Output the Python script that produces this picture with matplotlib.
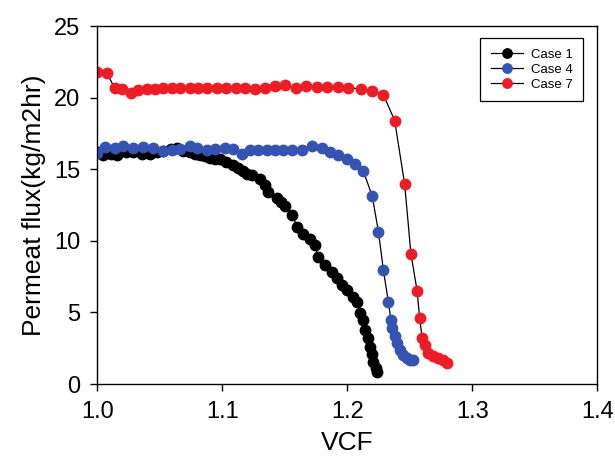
import numpy as np
from matplotlib import pyplot as plt

plt.rcParams['font.family'] = ['Liberation Sans', 'DejaVu Sans']

# Case 1 (black)
vcf_1 = [1.000, 1.005, 1.011, 1.016, 1.023, 1.029, 1.036, 1.042, 1.048, 1.053, 1.059,
         1.064, 1.069, 1.074, 1.078, 1.082, 1.086, 1.090, 1.094, 1.098,
         1.103, 1.109, 1.113, 1.117, 1.120, 1.124, 1.130, 1.134, 1.137,
         1.144, 1.147, 1.150, 1.156, 1.160, 1.165,
         1.170, 1.174, 1.177, 1.182, 1.188, 1.192,
         1.196, 1.200, 1.205, 1.208, 1.210,
         1.213, 1.214, 1.217, 1.218, 1.220, 1.221, 1.223, 1.224]
flux_1 = [16.2, 16.0, 16.1, 16.0, 16.2, 16.2, 16.1, 16.1, 16.2, 16.3, 16.4,
          16.5, 16.3, 16.2, 16.1, 16.0, 15.9, 15.8, 15.75, 15.7,
          15.5, 15.3, 15.1, 14.9, 14.7, 14.6, 14.3, 13.9, 13.4,
          13.0, 12.7, 12.4, 11.8, 11.0, 10.5,
          10.1, 9.7, 8.9, 8.3, 7.8, 7.4,
          6.9, 6.6, 6.1, 5.75, 4.95,
          4.5, 3.8, 3.2, 2.6, 2.1, 1.55, 1.1, 0.85]

# Case 4 (blue)
vcf_4 = [1.000, 1.006, 1.014, 1.021, 1.029, 1.037, 1.045, 1.053, 1.060, 1.066, 1.074,
         1.080, 1.088, 1.094, 1.102, 1.109, 1.116, 1.122, 1.129, 1.136, 1.142, 1.149,
         1.156, 1.164, 1.172, 1.180, 1.186, 1.193, 1.200, 1.206, 1.213, 1.220, 1.225,
         1.229, 1.233, 1.235, 1.236, 1.238, 1.240, 1.242, 1.245, 1.248, 1.250, 1.253]
flux_4 = [16.15, 16.55, 16.5, 16.6, 16.45, 16.55, 16.45, 16.3, 16.35, 16.4, 16.6,
          16.5, 16.35, 16.4, 16.45, 16.4, 16.05, 16.35, 16.35, 16.35, 16.35, 16.35,
          16.35, 16.35, 16.6, 16.45, 16.2, 16.0, 15.75, 15.35, 14.85, 13.15, 10.65,
          7.95, 5.7, 4.5, 3.95, 3.35, 2.85, 2.35, 2.0, 1.85, 1.7, 1.65]

# Case 7 (red)
vcf_7 = [1.000, 1.008, 1.014, 1.020, 1.027, 1.033, 1.040, 1.046, 1.053, 1.060, 1.066,
         1.074, 1.081, 1.088, 1.096, 1.103, 1.111, 1.118, 1.126, 1.134, 1.142, 1.150,
         1.159, 1.167, 1.176, 1.184, 1.193, 1.201, 1.211, 1.220, 1.229, 1.238, 1.246,
         1.251, 1.256, 1.258, 1.260, 1.262, 1.265, 1.269, 1.273, 1.277, 1.280]
flux_7 = [21.8, 21.7, 20.65, 20.6, 20.35, 20.5, 20.6, 20.6, 20.7, 20.7, 20.7,
          20.7, 20.7, 20.7, 20.65, 20.65, 20.7, 20.7, 20.6, 20.7, 20.8, 20.85,
          20.65, 20.8, 20.75, 20.75, 20.75, 20.7, 20.6, 20.45, 20.2, 18.4, 13.95,
          9.1, 6.5, 4.6, 3.2, 2.7, 2.15, 1.95, 1.8, 1.65, 1.45]

fig = plt.figure(figsize=(6.15, 4.65), dpi=100)
ax = fig.add_axes([0.158, 0.174, 0.813, 0.770])

ax.plot(vcf_1, flux_1, '-o', color='black', mfc='black', mec='black',
        lw=0.9, ms=7.5, label='Case 1')
ax.plot(vcf_4, flux_4, '-o', color='black', mfc='#3553b0', mec='#3553b0',
        lw=0.9, ms=7.5, label='Case 4')
ax.plot(vcf_7, flux_7, '-o', color='black', mfc='#ee1c24', mec='#ee1c24',
        lw=0.9, ms=7.5, label='Case 7')

ax.set_xlim(1.0, 1.4)
ax.set_ylim(0, 25)
ax.set_xticks([1.0, 1.1, 1.2, 1.3, 1.4])
ax.set_yticks([0, 5, 10, 15, 20, 25])
ax.tick_params(direction='out', length=5, width=1, labelsize=17, pad=7)
for s in ax.spines.values():
    s.set_linewidth(1)

ax.set_xlabel('VCF', fontsize=19, labelpad=6)
ax.set_ylabel('Permeat flux(kg/m2hr)', fontsize=19, labelpad=6)

leg = ax.legend(loc='upper right', bbox_to_anchor=(0.985, 0.985), fontsize=9.5,
                fancybox=False, edgecolor='black', framealpha=1,
                handlelength=2.4, handletextpad=0.6, borderpad=0.8, labelspacing=0.2,
                markerscale=0.9, borderaxespad=0.5)
leg.get_frame().set_linewidth(0.9)

fig.savefig('out.png', dpi=100)
